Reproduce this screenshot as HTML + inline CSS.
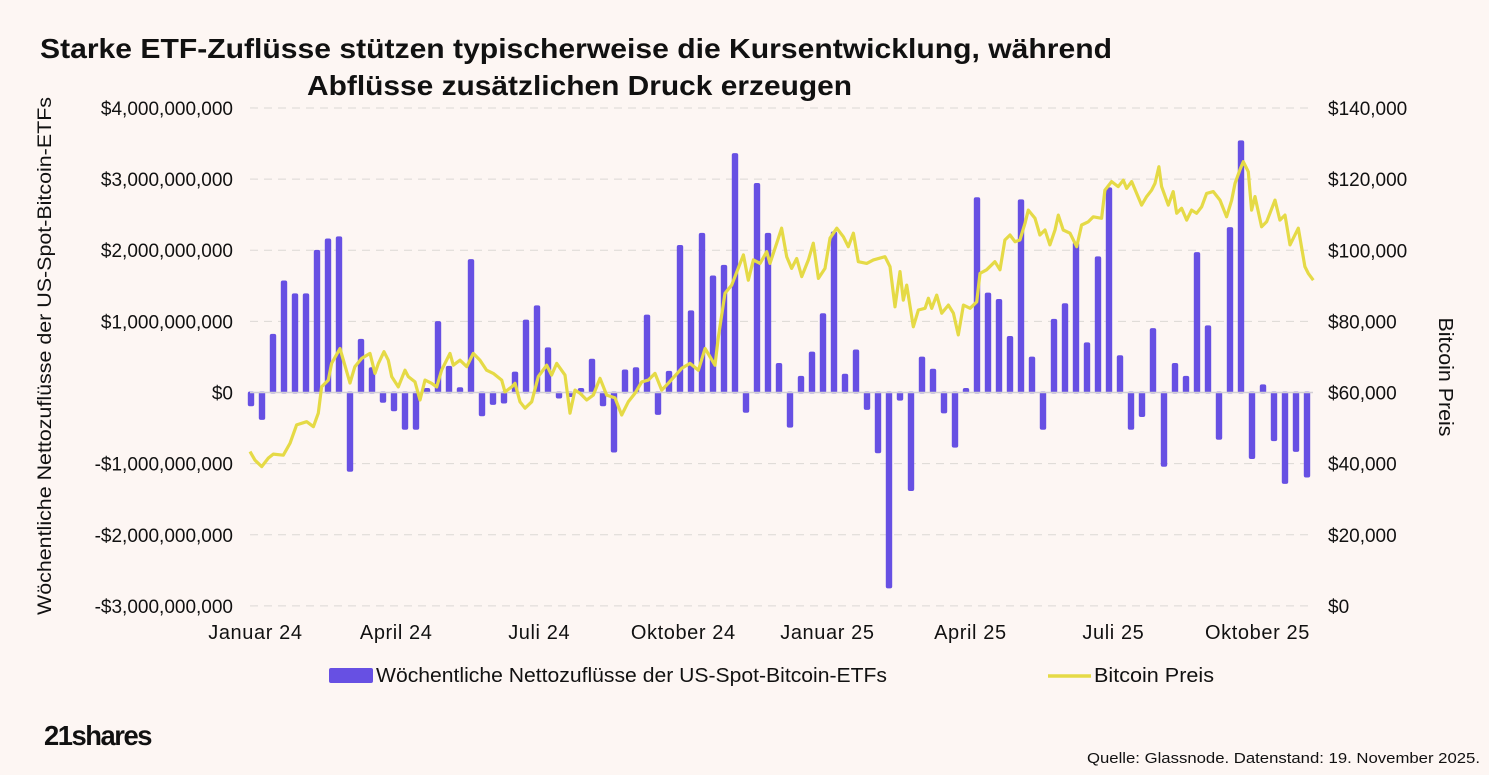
<!DOCTYPE html>
<html><head><meta charset="utf-8"><style>
html,body{margin:0;padding:0;background:#fdf6f3;}
svg{display:block;font-family:"Liberation Sans",sans-serif;}
</style></head><body>
<svg id="chart" width="1489" height="775" viewBox="0 0 1489 775" xmlns="http://www.w3.org/2000/svg">
<rect x="0" y="0" width="1489" height="775" fill="#fdf6f3"/>
<text x="40" y="58" font-size="28" font-weight="bold" fill="#111" textLength="1072" lengthAdjust="spacingAndGlyphs">Starke ETF-Zuflüsse stützen typischerweise die Kursentwicklung, während</text>
<text x="307" y="95" font-size="28" font-weight="bold" fill="#111" textLength="545" lengthAdjust="spacingAndGlyphs">Abflüsse zusätzlichen Druck erzeugen</text>
<g id="grid"></g>
<g id="leftTicks"></g>
<g id="rightTicks"></g>
<g id="xTicks"></g>
<g id="bars"></g>
<path id="priceLine" fill="none" stroke="#e5da46" stroke-width="3.2" stroke-linejoin="round"/>
<text transform="translate(51,356) rotate(-90)" text-anchor="middle" font-size="19" fill="#111" textLength="518" lengthAdjust="spacingAndGlyphs">Wöchentliche Nettozuflüsse der US-Spot-Bitcoin-ETFs</text>
<text transform="translate(1439,377) rotate(90)" text-anchor="middle" font-size="20" fill="#111" textLength="119" lengthAdjust="spacingAndGlyphs">Bitcoin Preis</text>
<g>
<rect x="329" y="668" width="44" height="15" rx="2" fill="#6750e3"/>
<text x="376" y="682" font-size="20" fill="#111" textLength="511" lengthAdjust="spacingAndGlyphs">Wöchentliche Nettozuflüsse der US-Spot-Bitcoin-ETFs</text>
<line x1="1048" y1="676" x2="1091" y2="676" stroke="#e5da46" stroke-width="3.5"/>
<text x="1094" y="682" font-size="20" fill="#111" textLength="120" lengthAdjust="spacingAndGlyphs">Bitcoin Preis</text>
</g>
<text x="44" y="745" font-size="28" font-weight="bold" fill="#111" letter-spacing="-1.5" textLength="107" lengthAdjust="spacingAndGlyphs">21shares</text>
<text x="1087" y="763" font-size="15" fill="#111" textLength="393" lengthAdjust="spacingAndGlyphs">Quelle: Glassnode. Datenstand: 19. November 2025.</text>
</svg>
<script>
const flowsB = [-0.18,-0.37,0.81,1.56,1.38,1.38,1.99,2.15,2.18,-1.10,0.74,0.34,-0.13,-0.25,-0.51,-0.51,0.05,0.99,0.36,0.06,1.86,-0.32,-0.16,-0.14,0.28,1.01,1.21,0.62,-0.07,-0.05,0.05,0.46,-0.18,-0.83,0.31,0.34,1.08,-0.30,0.29,2.06,1.14,2.23,1.63,1.78,3.35,-0.27,2.93,2.23,0.40,-0.48,0.22,0.56,1.10,2.25,0.25,0.59,-0.23,-0.84,-2.74,-0.10,-1.37,0.49,0.32,-0.28,-0.76,0.05,2.73,1.39,1.30,0.78,2.70,0.49,-0.51,1.02,1.24,2.10,0.69,1.90,2.87,0.51,-0.51,-0.33,0.89,-1.03,0.40,0.22,1.96,0.93,-0.65,2.31,3.53,-0.92,0.10,-0.67,-1.27,-0.82,-1.18];
const priceWeek = [-0.09,0.36,0.97,1.58,2.03,2.94,3.55,4.15,5.06,5.67,6.12,6.42,7.03,7.33,8.09,9.0,9.45,10.06,10.82,11.27,11.58,12.09,12.48,12.79,13.39,14.0,14.3,14.91,15.36,15.82,16.42,16.88,17.33,18.09,18.39,19.0,19.61,20.21,20.82,21.42,22.03,22.79,23.09,23.7,24.0,24.45,24.91,25.52,26.12,26.88,27.33,27.79,28.55,29.0,29.45,29.91,30.52,31.12,31.73,32.34,33.09,33.7,34.3,34.91,35.52,36.12,36.73,37.34,37.94,39.15,39.91,40.67,41.28,42.18,42.49,43.09,43.7,44.76,45.21,45.67,46.28,46.88,47.18,47.79,48.24,48.7,49.15,49.61,50.06,50.67,51.12,51.58,52.18,52.64,53.25,53.85,54.3,54.76,55.21,55.97,56.58,57.64,58.09,58.55,59.0,59.3,59.61,60.21,60.67,61.28,61.58,61.88,62.34,62.79,63.4,63.85,64.3,64.76,65.37,65.97,66.27,66.87,67.63,68.09,68.54,69.0,69.45,69.9,70.36,70.66,71.27,71.72,72.18,72.63,73.09,73.39,73.84,74.45,75.06,75.51,76.12,76.57,77.33,77.63,78.24,78.84,79.3,79.6,80.06,80.96,81.42,81.87,82.18,82.54,82.78,83.39,83.84,84.15,84.6,85.06,85.51,85.96,86.42,86.87,87.48,88.09,88.69,89.15,89.45,89.9,90.21,90.66,90.96,91.27,91.87,92.33,93.09,93.54,94.0,94.45,95.21,95.81,96.12,96.57];
const priceK = [43.4,41.0,39.2,41.6,42.7,42.4,45.8,50.9,51.8,50.4,54.2,61.6,63.5,68.2,72.4,62.7,67.3,69.6,71.0,65.4,68.2,71.5,69.1,64.5,61.6,66.3,64.5,63.0,57.9,63.5,62.6,61.6,66.3,71.0,67.7,69.1,67.3,71.0,69.1,66.3,65.4,63.5,60.2,61.6,62.6,57.4,55.6,57.4,64.5,67.7,64.9,68.2,64.9,54.2,60.7,59.8,57.9,59.3,64.0,59.3,58.5,53.7,57.4,59.8,63.0,63.5,65.4,60.7,62.6,66.8,68.2,66.3,72.4,67.7,75.7,87.9,90.2,98.7,91.6,97.3,96.3,99.6,96.3,102.0,106.2,98.2,94.9,97.7,92.6,97.3,102.0,92.1,94.9,103.4,106.2,103.8,101.0,104.8,96.8,96.3,97.3,98.2,95.4,84.1,94.0,86.0,90.2,78.5,83.2,83.7,86.5,83.7,87.4,82.3,84.6,82.3,76.2,84.6,83.7,85.5,93.5,94.5,96.8,94.5,102.9,104.3,102.4,102.9,107.6,111.3,109.0,104.3,105.7,101.5,105.7,109.9,105.7,104.8,101.0,107.1,108.0,109.4,109.0,116.9,119.3,117.9,119.7,117.4,119.3,112.7,115.1,116.9,118.8,123.5,117.9,112.7,116.5,110.4,111.8,108.5,111.3,110.4,112.2,116.0,116.5,114.1,109.4,114.1,118.8,122.6,124.9,122.1,111.3,115.1,106.6,108.0,114.1,108.5,109.9,101.5,106.2,95.4,93.5,91.6];
const leftTickVals = [4,3,2,1,0,-1,-2,-3];
const leftTickLabels = ["$4,000,000,000","$3,000,000,000","$2,000,000,000","$1,000,000,000","$0","-$1,000,000,000","-$2,000,000,000","-$3,000,000,000"];
const rightTickVals = [140,120,100,80,60,40,20,0];
const rightTickLabels = ["$140,000","$120,000","$100,000","$80,000","$60,000","$40,000","$20,000","$0"];
const xTickWeeks = [0.4,13.2,26.2,39.3,52.4,65.4,78.4,91.5];
const xTickLabels = ["Januar 24","April 24","Juli 24","Oktober 24","Januar 25","April 25","Juli 25","Oktober 25"];

const NS = "http://www.w3.org/2000/svg";
const yL = v => 392.5 - v * 71.14;
const yR = k => 606 - k / 140 * 498;
const xW = w => 251 + w * 11;

const grid = document.getElementById('grid');
leftTickVals.forEach((v, i) => {
  const y = yL(v);
  if (v !== 0) {
    const ln = document.createElementNS(NS, 'line');
    
    
    ln.setAttribute('x1', 250); ln.setAttribute('x2', 1313);
    ln.setAttribute('y1', y); ln.setAttribute('y2', y);
    ln.setAttribute('stroke', '#dcd8d5'); ln.setAttribute('stroke-width', '1');
    ln.setAttribute('stroke-dasharray', '8,6');
    grid.appendChild(ln);
  }
  const t = document.createElementNS(NS, 'text');
  
  
  t.setAttribute('x', 233); t.setAttribute('y', y + 7);
  t.setAttribute('text-anchor', 'end'); t.setAttribute('font-size', '19'); t.setAttribute('fill', '#111');
  t.textContent = leftTickLabels[i];
  document.getElementById('leftTicks').appendChild(t);
});
rightTickVals.forEach((v, i) => {
  const t = document.createElementNS(NS, 'text');
  
  
  t.setAttribute('x', 1328); t.setAttribute('y', yR(v) + 7);
  t.setAttribute('font-size', '19'); t.setAttribute('fill', '#111');
  t.textContent = rightTickLabels[i];
  document.getElementById('rightTicks').appendChild(t);
});
xTickWeeks.forEach((w, i) => {
  const t = document.createElementNS(NS, 'text');
  
  
  t.setAttribute('x', xW(w)); t.setAttribute('y', 639);
  t.setAttribute('text-anchor', 'middle'); t.setAttribute('font-size', '20'); t.setAttribute('fill', '#111');
  t.setAttribute('letter-spacing', '0.6');
  t.textContent = xTickLabels[i];
  document.getElementById('xTicks').appendChild(t);
});
const bars = document.getElementById('bars');
flowsB.forEach((v, i) => {
  const x = xW(i);
  const y0 = yL(0), y1 = yL(v);
  const r = document.createElementNS(NS, 'rect');
  
  
  const top = Math.min(y0, y1) - 1, h = Math.abs(y1 - y0) + 2;
  r.setAttribute('x', x - 3.2); r.setAttribute('width', 6.4);
  r.setAttribute('y', top); r.setAttribute('height', h);
  r.setAttribute('rx', 2); r.setAttribute('fill', '#6750e3');
  bars.appendChild(r);
});
const zl = document.createElementNS(NS, 'line');


zl.setAttribute('x1', 250); zl.setAttribute('x2', 1313);
zl.setAttribute('y1', yL(0)); zl.setAttribute('y2', yL(0));
zl.setAttribute('stroke', '#d2cfd4'); zl.setAttribute('stroke-width', '1.5');
bars.appendChild(zl);
let d = '';
priceWeek.forEach((w, i) => { d += (i ? 'L' : 'M') + xW(w).toFixed(1) + ',' + yR(priceK[i]).toFixed(1); });
document.getElementById('priceLine').setAttribute('d', d);
</script>
</body></html>
